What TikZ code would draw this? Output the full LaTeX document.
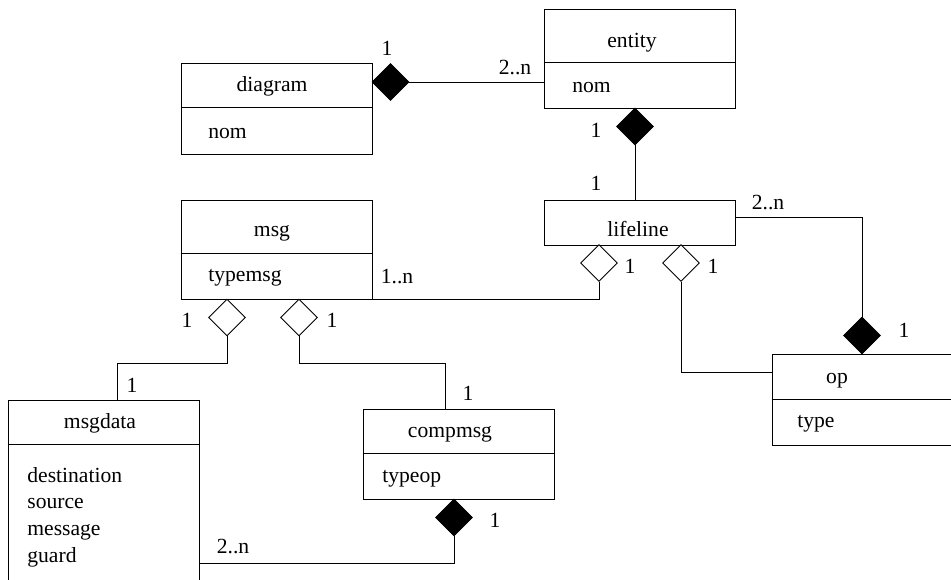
\documentclass[tikz,border=0pt]{standalone}
\usepackage{fontspec}
\setmainfont{Liberation Serif}
\usetikzlibrary{shapes.geometric,fit,calc}

\begin{document}
\begin{tikzpicture}[x=0.02cm, y=-0.02cm, font=\fontsize{12.3}{15}\selectfont,
    cls/.style={draw, line width=0.5pt, inner sep=0pt, fit={#1}},
    comp/.style={diamond, draw, fill=black, line width=0.5pt, inner sep=0pt,
                 minimum size=0.74cm},
    aggr/.style={diamond, draw, fill=white, line width=0.5pt, inner sep=0pt,
                 minimum size=0.74cm},
    lnk/.style={line width=0.5pt},
    cname/.style={anchor=base, inner sep=0pt},
    attr/.style={anchor=base west, inner sep=0pt},
    mult/.style={anchor=base, inner sep=0pt}]

  \useasboundingbox (0,0) rectangle (951,579);
  \clip (0,0) rectangle (951,579);

  %% ── Classes ─────────────────────────────────────────────
  \node[cls={(181,63) (372,154)}] (diagram) {};
  \draw[lnk] ($(diagram.north west)+(0,45)$) -- ($(diagram.north east)+(0,45)$);
  \node[cname] (tDiagram) at (272,91) {diagram};
  \node[attr]  (aDiagramNom) at (208,138) {nom};

  \node[cls={(544,9) (735,108)}] (entity) {};
  \draw[lnk] ($(entity.north west)+(0,54)$) -- ($(entity.north east)+(0,54)$);
  \node[cname] (tEntity) at (632,47) {entity};
  \node[attr]  (aEntityNom) at (572,92) {nom};

  \node[cls={(544,200) (735,245)}] (lifeline) {};
  \node[cname] (tLifeline) at (638,236) {lifeline};

  \node[cls={(181,200) (372,299)}] (msg) {};
  \draw[lnk] ($(msg.north west)+(0,54)$) -- ($(msg.north east)+(0,54)$);
  \node[cname] (tMsg) at (272,236) {msg};
  \node[attr]  (aMsgType) at (208,281) {typemsg};

  \node[cls={(8,400) (199,620)}] (msgdata) {};
  \draw[lnk] ($(msgdata.north west)+(0,45)$) -- ($(msgdata.north east)+(0,45)$);
  \node[cname] (tMsgdata) at (100,428) {msgdata};
  \foreach \y/\txt in {482/destination, 508/source, 535/message, 562/guard}{
    \node[attr] (a-\txt) at (27,\y) {\txt};
  }

  \node[cls={(363,409) (554,499)}] (compmsg) {};
  \draw[lnk] ($(compmsg.north west)+(0,45)$) -- ($(compmsg.north east)+(0,45)$);
  \node[cname] (tCompmsg) at (450,437) {compmsg};
  \node[attr]  (aCompmsgType) at (382,482) {typeop};

  \node[cls={(772,354) (990,445)}] (op) {};
  \draw[lnk] ($(op.north west)+(0,46)$) -- ($(op.north east)+(0,46)$);
  \node[cname] (tOp) at (837,383) {op};
  \node[attr]  (aOpType) at (797,427) {type};

  %% ── Associations ────────────────────────────────────────
  %% diagram -- entity
  \node[comp] (dDiag) at (390.5,82) {};
  \draw[lnk] (dDiag.east) -- (dDiag.east -| entity.west);
  \node[mult] (mDiag) at (387,55) {1};
  \node[mult] (mEntDiag) at (515,74) {2..n};

  %% entity -- lifeline
  \node[comp] (dEnt) at (635,126.5) {};
  \draw[lnk] (dEnt.south) -- (dEnt.south |- lifeline.north);
  \node[mult] (mEnt) at (596,137) {1};
  \node[mult] (mLifeEnt) at (596,190) {1};

  %% lifeline -- msg
  \node[aggr] (dLife1) at (599,263) {};
  \draw[lnk] (dLife1.south) |- (msg.south east);
  \node[mult] (mLife1) at (630,273) {1};
  \node[mult] (mMsgLife) at (397,283) {1..n};

  %% lifeline -- op
  \node[aggr] (dLife2) at (681,263) {};
  \coordinate (opIn) at (772,372);
  \draw[lnk] (dLife2.south) |- (opIn);
  \node[mult] (mLife2) at (713,273) {1};

  \node[comp] (dOp) at (862,335.5) {};
  \draw[lnk] ($(lifeline.north east)!0.4!(lifeline.south east)$) -| (dOp.north);
  \node[mult] (mLifeOp) at (768,209) {2..n};
  \node[mult] (mOp) at (904,337) {1};

  %% msg -- msgdata / compmsg
  \node[aggr] (dMsg1) at (227,317.5) {};
  \coordinate (mdIn) at (117,400);
  \draw[lnk] (dMsg1.south) -- ++(0,27) -| (mdIn);
  \node[mult] (mMsg1) at (187,327) {1};
  \node[mult] (mMsgdata) at (132,392) {1};

  \node[aggr] (dMsg2) at (299,317.5) {};
  \coordinate (cmIn) at (445,409);
  \draw[lnk] (dMsg2.south) -- ++(0,27) -| (cmIn);
  \node[mult] (mMsg2) at (332,327) {1};
  \node[mult] (mCompmsg) at (468,400) {1};

  %% compmsg -- msgdata
  \node[comp] (dComp) at (454,517.5) {};
  \coordinate (mdOut) at (199,563);
  \draw[lnk] (dComp.south) |- (mdOut);
  \node[mult] (mComp) at (495,527) {1};
  \node[mult] (mMsgdataComp) at (233,553) {2..n};

\end{tikzpicture}
\end{document}
